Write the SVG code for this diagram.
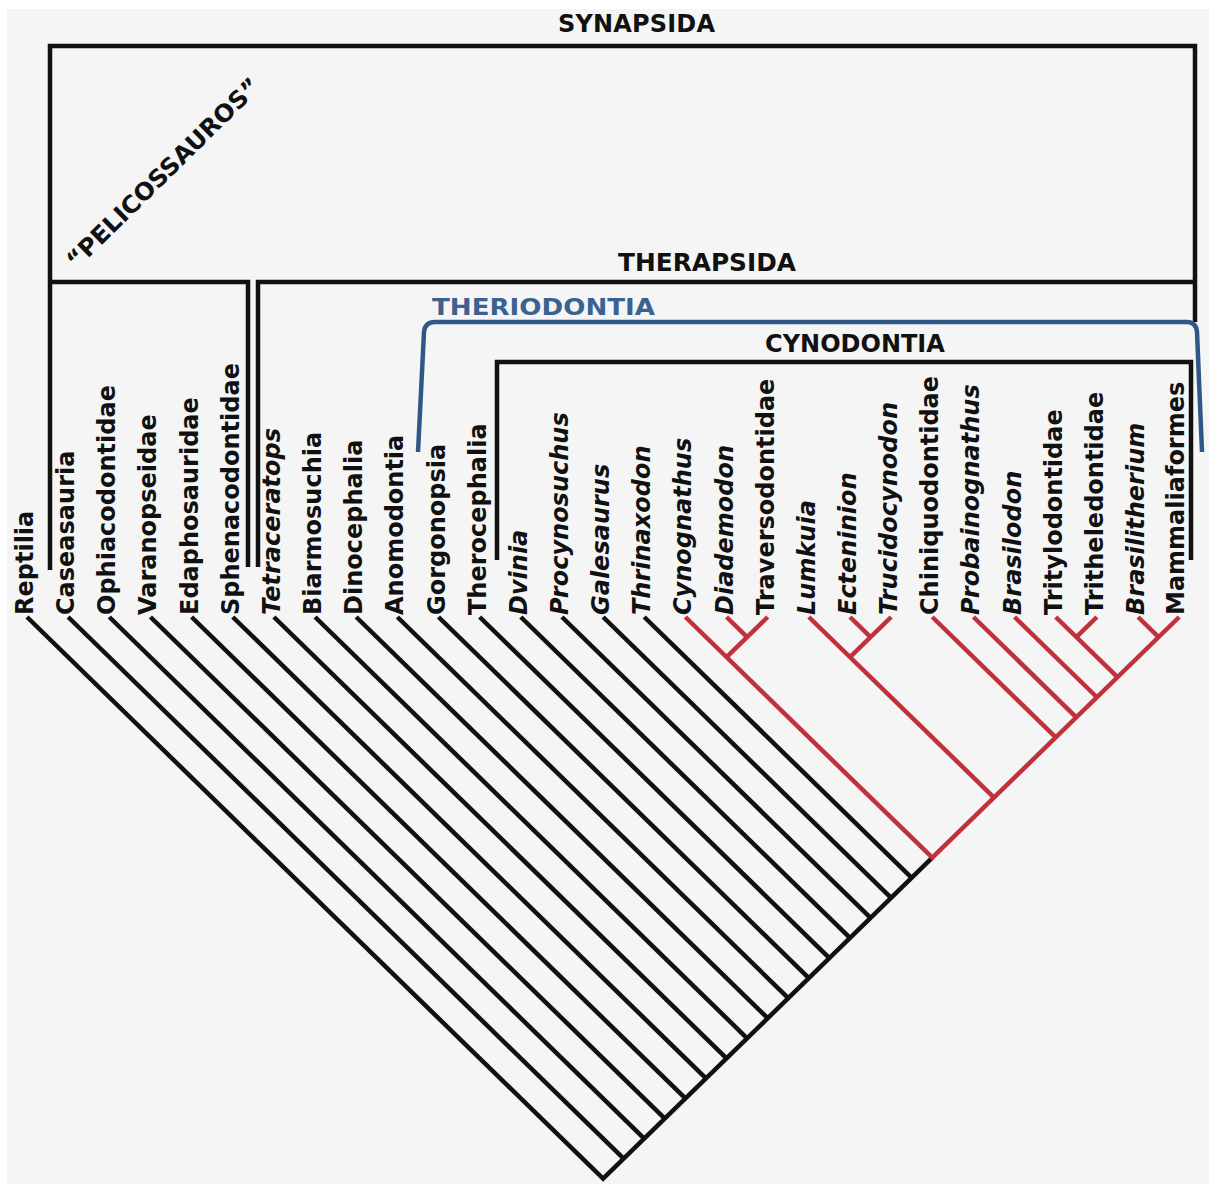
<svg xmlns="http://www.w3.org/2000/svg" width="1216" height="1184" viewBox="0 0 1216 1184">
<style>
.lbl{font-family:"DejaVu Sans","Liberation Sans",sans-serif;font-weight:bold;font-size:24px;fill:#111}
.it{font-style:italic}
.k{stroke:#111;stroke-width:4.5;fill:none;stroke-linejoin:miter}
.r{stroke:#c0313b;stroke-width:4.5;fill:none}
.b{stroke:#2f5886;stroke-width:4.5;fill:none;stroke-linejoin:round}
.blue{fill:#3a6290;font-size:23.5px}
</style>
<rect x="0" y="0" width="1216" height="1184" fill="#ffffff"/>
<rect x="7" y="9" width="1202" height="1175" fill="#f5f5f5"/>

<g id="connectors">
  <!-- clade brackets -->
  <path class="k" d="M50,570 V46 H1195 V322"/>
  <path class="k" d="M50,282 H248 V567"/>
  <path class="k" d="M258,567 V282 H1195"/>
  <path class="b" d="M418,452 L424,332 Q425,322 435,322 H1187 Q1196,322 1197,332 L1202,452"/>
  <path class="k" d="M497,560 V362 H1191 V560"/>
  <!-- black comb -->
  <path class="k" d="M27,617 L603.1,1178.7 L932.3,857.73"/>
  <path class="k" d="M68.15,617 L623.68,1158.64"/>
  <path class="k" d="M109.3,617 L644.25,1138.58"/>
  <path class="k" d="M150.45,617 L664.83,1118.52"/>
  <path class="k" d="M191.6,617 L685.4,1098.46"/>
  <path class="k" d="M232.75,617 L705.98,1078.39"/>
  <path class="k" d="M273.9,617 L726.55,1058.33"/>
  <path class="k" d="M315.05,617 L747.13,1038.27"/>
  <path class="k" d="M356.2,617 L767.7,1018.21"/>
  <path class="k" d="M397.35,617 L788.28,998.15"/>
  <path class="k" d="M438.5,617 L808.85,978.09"/>
  <path class="k" d="M479.65,617 L829.43,958.03"/>
  <path class="k" d="M520.8,617 L850,937.97"/>
  <path class="k" d="M561.95,617 L870.58,917.91"/>
  <path class="k" d="M603.1,617 L891.15,897.85"/>
  <path class="k" d="M644.25,617 L911.73,877.79"/>
  <!-- red clade -->
  <path class="r" d="M685.4,617 L932.3,857.73 L1179.2,617"/>
  <path class="r" d="M726.55,617 L747.13,637.06"/>
  <path class="r" d="M767.7,617 L726.55,657.12"/>
  <path class="r" d="M808.85,617 L994.03,797.55"/>
  <path class="r" d="M850,617 L870.58,637.06"/>
  <path class="r" d="M891.15,617 L850,657.12"/>
  <path class="r" d="M932.3,617 L1055.75,737.36"/>
  <path class="r" d="M973.45,617 L1076.33,717.3"/>
  <path class="r" d="M1014.6,617 L1096.9,697.24"/>
  <path class="r" d="M1055.75,617 L1117.48,677.18"/>
  <path class="r" d="M1096.9,617 L1076.33,637.06"/>
  <path class="r" d="M1138.05,617 L1158.63,637.06"/>
</g>

<g id="clade-synapsida"><text class="lbl" x="636.5" y="32" text-anchor="middle" textLength="157">SYNAPSIDA</text></g>
<g id="clade-pelicossauros"><text class="lbl" transform="translate(169,179) rotate(-44.5)" text-anchor="middle" textLength="260" lengthAdjust="spacingAndGlyphs">“PELICOSSAUROS”</text></g>
<g id="clade-therapsida"><text class="lbl" x="707" y="271" text-anchor="middle" textLength="178" lengthAdjust="spacingAndGlyphs">THERAPSIDA</text></g>
<g id="clade-theriodontia"><text class="lbl blue" x="432" y="315" textLength="223" lengthAdjust="spacingAndGlyphs">THERIODONTIA</text></g>
<g id="clade-cynodontia"><text class="lbl" x="855" y="352" text-anchor="middle">CYNODONTIA</text></g>

<g id="taxon-reptilia"><text class="lbl" transform="translate(33,615) rotate(-90)">Reptilia</text></g>
<g id="taxon-caseasauria"><text class="lbl" transform="translate(74.15,615) rotate(-90)">Caseasauria</text></g>
<g id="taxon-ophiacodontidae"><text class="lbl" transform="translate(115.3,615) rotate(-90)">Ophiacodontidae</text></g>
<g id="taxon-varanopseidae"><text class="lbl" transform="translate(156.45,615) rotate(-90)">Varanopseidae</text></g>
<g id="taxon-edaphosauridae"><text class="lbl" transform="translate(197.6,615) rotate(-90)">Edaphosauridae</text></g>
<g id="taxon-sphenacodontidae"><text class="lbl" transform="translate(238.75,615) rotate(-90)">Sphenacodontidae</text></g>
<g id="taxon-tetraceratops"><text class="lbl it" transform="translate(279.9,615) rotate(-90)">Tetraceratops</text></g>
<g id="taxon-biarmosuchia"><text class="lbl" transform="translate(321.05,615) rotate(-90)">Biarmosuchia</text></g>
<g id="taxon-dinocephalia"><text class="lbl" transform="translate(362.2,615) rotate(-90)">Dinocephalia</text></g>
<g id="taxon-anomodontia"><text class="lbl" transform="translate(403.35,615) rotate(-90)">Anomodontia</text></g>
<g id="taxon-gorgonopsia"><text class="lbl" transform="translate(444.5,615) rotate(-90)">Gorgonopsia</text></g>
<g id="taxon-therocephalia"><text class="lbl" transform="translate(485.65,615) rotate(-90)">Therocephalia</text></g>
<g id="taxon-dvinia"><text class="lbl it" transform="translate(526.8,615) rotate(-90)">Dvinia</text></g>
<g id="taxon-procynosuchus"><text class="lbl it" transform="translate(567.95,615) rotate(-90)">Procynosuchus</text></g>
<g id="taxon-galesaurus"><text class="lbl it" transform="translate(609.1,615) rotate(-90)">Galesaurus</text></g>
<g id="taxon-thrinaxodon"><text class="lbl it" transform="translate(650.25,615) rotate(-90)">Thrinaxodon</text></g>
<g id="taxon-cynognathus"><text class="lbl it" transform="translate(691.4,615) rotate(-90)">Cynognathus</text></g>
<g id="taxon-diademodon"><text class="lbl it" transform="translate(732.55,615) rotate(-90)">Diademodon</text></g>
<g id="taxon-traversodontidae"><text class="lbl" transform="translate(773.7,615) rotate(-90)">Traversodontidae</text></g>
<g id="taxon-lumkuia"><text class="lbl it" transform="translate(814.85,615) rotate(-90)">Lumkuia</text></g>
<g id="taxon-ecteninion"><text class="lbl it" transform="translate(856,615) rotate(-90)">Ecteninion</text></g>
<g id="taxon-trucidocynodon"><text class="lbl it" transform="translate(897.15,615) rotate(-90)">Trucidocynodon</text></g>
<g id="taxon-chiniquodontidae"><text class="lbl" transform="translate(938.3,615) rotate(-90)">Chiniquodontidae</text></g>
<g id="taxon-probainognathus"><text class="lbl it" transform="translate(979.45,615) rotate(-90)">Probainognathus</text></g>
<g id="taxon-brasilodon"><text class="lbl it" transform="translate(1020.6,615) rotate(-90)">Brasilodon</text></g>
<g id="taxon-tritylodontidae"><text class="lbl" transform="translate(1061.75,615) rotate(-90)">Tritylodontidae</text></g>
<g id="taxon-tritheledontidae"><text class="lbl" transform="translate(1102.9,615) rotate(-90)">Tritheledontidae</text></g>
<g id="taxon-brasilitherium"><text class="lbl it" transform="translate(1144.05,615) rotate(-90)">Brasilitherium</text></g>
<g id="taxon-mammaliaformes"><text class="lbl" transform="translate(1184,615) rotate(-90)">Mammaliaformes</text></g>
</svg>
